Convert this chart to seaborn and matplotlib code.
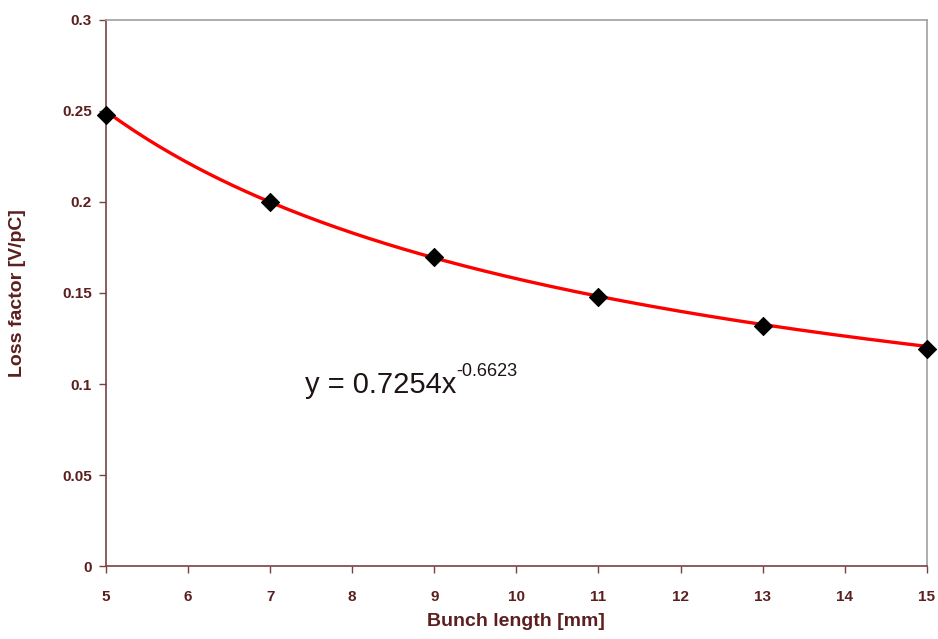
import numpy as np
import matplotlib
matplotlib.use("Agg")
import matplotlib.pyplot as plt
import pandas as pd
import seaborn as sns

# measured points
bunch_length = [5, 7, 9, 11, 13, 15]
loss_factor = [0.248, 0.200, 0.170, 0.148, 0.132, 0.119]

# power-law trendline as printed on the chart
fit_a = 0.7254
fit_b = -0.6623

x_ticks = [5, 6, 7, 8, 9, 10, 11, 12, 13, 14, 15]
y_ticks = [0, 0.05, 0.1, 0.15, 0.2, 0.25, 0.3]
y_tick_labels = ["0", "0.05", "0.1", "0.15", "0.2", "0.25", "0.3"]

sns.set_theme(style="white")
plt.rcParams['font.family'] = ['Liberation Sans', 'DejaVu Sans']

maroon = "#5c1f1f"
axis_col = "#7a4040"

df = pd.DataFrame({"x": bunch_length, "y": loss_factor})
xs = np.linspace(min(bunch_length), max(bunch_length), 200)
fit_df = pd.DataFrame({"x": xs, "y": fit_a * xs ** fit_b})

fig = plt.figure(figsize=(9.38, 6.39), dpi=100)
ax = fig.add_axes([0.113, 0.114, 0.875, 0.855])

sns.lineplot(data=fit_df, x="x", y="y", ax=ax, color="#ff0000", linewidth=2.4, zorder=2)
sns.scatterplot(data=df, x="x", y="y", ax=ax, marker="D", s=85, color="black",
                edgecolor="black", zorder=3, clip_on=False)

ax.set_xlim(5, 15)
ax.set_ylim(0, 0.3)
ax.set_xticks(x_ticks)
ax.set_yticks(y_ticks)
ax.set_yticklabels(y_tick_labels)

ax.tick_params(axis="both", bottom=True, left=True, direction="out", length=5, width=1,
               colors=axis_col, labelcolor=maroon, labelsize=11)
ax.tick_params(axis="x", pad=12)
ax.tick_params(axis="y", pad=5)
for lab in ax.get_xticklabels() + ax.get_yticklabels():
    lab.set_fontweight("bold")

ax.spines["left"].set_color(axis_col)
ax.spines["bottom"].set_color(axis_col)
ax.spines["top"].set_color("#a0a0a0")
ax.spines["right"].set_color("#a0a0a0")
for s in ax.spines.values():
    s.set_linewidth(1.2)

ax.set_xlabel("Bunch length [mm]", fontsize=14, fontweight="bold", color=maroon, labelpad=7)
ax.set_ylabel("Loss factor [V/pC]", fontsize=14, fontweight="bold", color=maroon, labelpad=26)

eq = ax.text(7.42, 0.095, "y = 0.7254x", fontsize=21, color="#1e1414")
fig.canvas.draw()
bb = eq.get_window_extent().transformed(ax.transData.inverted())
ax.text(bb.x1, 0.1045, "-0.6623", fontsize=13, color="#1e1414")

fig.savefig("out.png", dpi=100)
